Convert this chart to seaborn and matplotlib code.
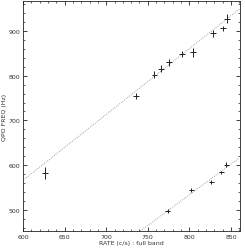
import matplotlib
matplotlib.use("Agg")
import matplotlib.pyplot as plt
import seaborn as sns
import numpy as np
import pandas as pd
from matplotlib.ticker import MultipleLocator

# upper QPO branch
up_rate = [626.5, 736, 758, 766, 775.5, 791, 804, 828, 840, 845]
up_freq = [582, 755, 802, 816, 830, 848, 852, 895, 906, 927]
up_ferr = [13, 6, 8, 8, 8, 7, 10, 8, 6, 10]
up_rerr = [3.5, 3.5, 3.5, 3.5, 3.5, 3.5, 3.5, 3.5, 3.5, 3.5]

# lower QPO branch
lo_rate = [774, 802, 826.5, 838.5, 844.6]
lo_freq = [497, 544, 563, 584, 601]
lo_ferr = [4, 5, 4, 4, 5]
lo_rerr = [3, 3, 3, 3, 3]

# fitted lines (read endpoints)
fit_up_x = [600, 860]
fit_up_y = [566, 949]
fit_lo_x = [741, 860]
fit_lo_y = [453, 616]

sns.set_theme(style="ticks")
plt.rcParams['font.family'] = ['DejaVu Sans']

fig = plt.figure(figsize=(2.45, 2.51), dpi=100)
ax = fig.add_axes([0.094, 0.076, 0.886, 0.916])

line_df = pd.concat([
    pd.DataFrame({"x": fit_up_x, "y": fit_up_y, "g": "up"}),
    pd.DataFrame({"x": fit_lo_x, "y": fit_lo_y, "g": "lo"}),
])
sns.lineplot(data=line_df, x="x", y="y", units="g", estimator=None, ax=ax,
             color="#888888", lw=0.6, linestyle=(0, (1, 1.5)), legend=False)

ax.errorbar(up_rate, up_freq, yerr=up_ferr, xerr=up_rerr, fmt="none",
            ecolor="#222222", elinewidth=0.7, capsize=0)
ax.errorbar(lo_rate, lo_freq, yerr=lo_ferr, xerr=lo_rerr, fmt="none",
            ecolor="#222222", elinewidth=0.7, capsize=0)

ax.set_xlim(600, 861)
ax.set_ylim(453, 967)
ax.xaxis.set_major_locator(MultipleLocator(50))
ax.xaxis.set_minor_locator(MultipleLocator(10))
ax.yaxis.set_major_locator(MultipleLocator(100))
ax.yaxis.set_minor_locator(MultipleLocator(20))
ax.tick_params(which="both", direction="in", top=True, right=True,
               labelsize=4.5, color="#222222", labelcolor="#333333", pad=2)
ax.tick_params(which="major", length=3, width=0.6)
ax.tick_params(which="minor", length=1.5, width=0.5)
for s in ax.spines.values():
    s.set_linewidth(0.6)
    s.set_color("#222222")

ax.set_xlabel("RATE (c/s) : full band", fontsize=4.5, color="#333333", labelpad=1)
ax.set_ylabel("QPO FREQ (Hz)", fontsize=4.5, color="#333333", labelpad=1)

fig.savefig("out.png", dpi=100)
